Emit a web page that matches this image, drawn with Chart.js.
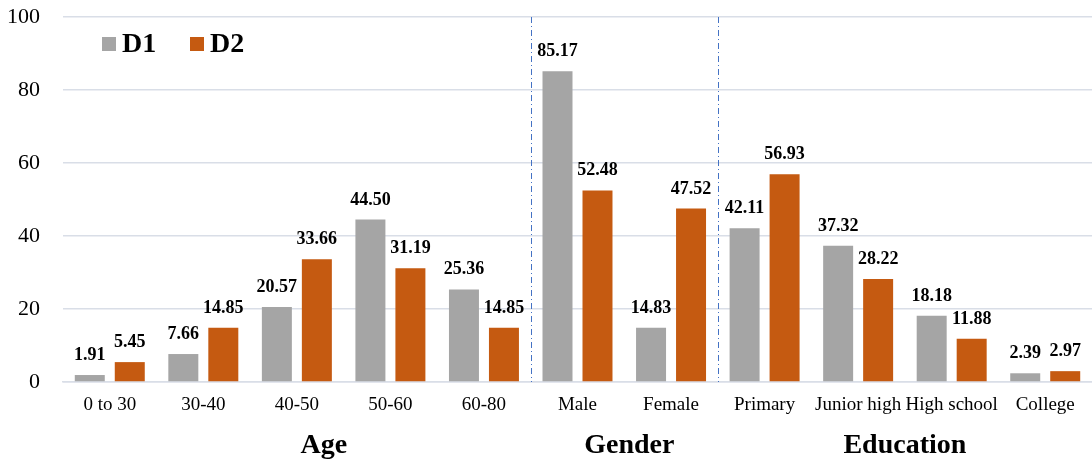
<!DOCTYPE html>
<html>
<head>
<meta charset="utf-8">
<script src="https://cdn.jsdelivr.net/npm/chart.js@4"></script>
<style>
  html, body { margin: 0; padding: 0; background: #fff; }
  #wrap { width: 1092px; height: 465px; position: relative; }
</style>
</head>
<body>
<div id="wrap"><canvas id="c"></canvas></div>
<script>
// Categories along the x axis
const categories = ['0 to 30', '30-40', '40-50', '50-60', '60-80', 'Male', 'Female',
                    'Primary', 'Junior high', 'High school', 'College'];
// Series values (percent)
const d1Values = [1.91, 7.66, 20.57, 44.50, 25.36, 85.17, 14.83, 42.11, 37.32, 18.18, 2.39];
const d2Values = [5.45, 14.85, 33.66, 31.19, 14.85, 52.48, 47.52, 56.93, 28.22, 11.88, 2.97];
const seriesNames = ['D1', 'D2'];
// Group titles and the category index ranges they cover
const groupNames = ['Age', 'Gender', 'Education'];
const groupStarts = [0, 5, 7];
const groupEnds = [4, 6, 10];
// Y axis ticks
const yTicks = [0, 20, 40, 60, 80, 100];

const colors = ['#a5a5a5', '#c55a11'];
const serif = '"Liberation Serif", "Times New Roman", serif';

const overlay = {
  id: 'overlay',
  afterDatasetsDraw(chart) {
    const ctx = chart.ctx;
    const x = chart.scales.x;
    const area = chart.chartArea;
    ctx.save();

    // value labels above each bar
    ctx.font = 'bold 18px ' + serif;
    ctx.fillStyle = '#000';
    ctx.textAlign = 'center';
    ctx.textBaseline = 'alphabetic';
    chart.data.datasets.forEach((ds, di) => {
      chart.getDatasetMeta(di).data.forEach((bar, i) => {
        ctx.fillText(ds.data[i].toFixed(2), bar.x, bar.y - 15);
      });
    });

    // dash-dot separators between groups
    ctx.strokeStyle = '#4472c4';
    ctx.lineWidth = 1;
    ctx.setLineDash([6, 3, 1, 3]);
    for (let g = 1; g < groupStarts.length; g++) {
      const sx = Math.round((x.getPixelForValue(groupStarts[g]) + x.getPixelForValue(groupStarts[g] - 1)) / 2) + 0.5;
      ctx.beginPath();
      ctx.moveTo(sx, area.top);
      ctx.lineTo(sx, area.bottom);
      ctx.stroke();
    }
    ctx.setLineDash([]);

    // group titles below the category labels
    ctx.font = 'bold 28px ' + serif;
    ctx.textBaseline = 'middle';
    const shift = [27, 5, 0];
    groupNames.forEach((name, g) => {
      const cx = (x.getPixelForValue(groupStarts[g]) + x.getPixelForValue(groupEnds[g])) / 2 + shift[g];
      ctx.fillText(name, cx, 446);
    });

    // legend
    ctx.font = 'bold 28px ' + serif;
    ctx.textAlign = 'left';
    const lx = [102, 190];
    seriesNames.forEach((name, i) => {
      ctx.fillStyle = colors[i];
      ctx.fillRect(lx[i], 37, 14, 14);
      ctx.fillStyle = '#000';
      ctx.fillText(name, lx[i] + 20, 45);
    });

    ctx.restore();
  }
};

new Chart(document.getElementById('c'), {
  type: 'bar',
  data: {
    labels: categories,
    datasets: [
      { label: seriesNames[0], data: d1Values, backgroundColor: colors[0] },
      { label: seriesNames[1], data: d2Values, backgroundColor: colors[1] }
    ]
  },
  options: {
    responsive: true,
    maintainAspectRatio: false,
    animation: false,
    layout: { padding: { top: 17, right: 0, left: 0, bottom: 0 } },
    datasets: { bar: { categoryPercentage: 0.855, barPercentage: 0.75 } },
    plugins: { legend: { display: false }, tooltip: { enabled: false } },
    scales: {
      x: {
        grid: { display: false, drawTicks: false },
        border: { display: true, color: '#d9dee7', width: 1.5 },
        ticks: { color: '#000', font: { family: serif, size: 19 }, padding: 12, maxRotation: 0, autoSkip: false },
        afterFit(s) { s.height = 83; s.paddingLeft = 0; s.paddingRight = 0; }
      },
      y: {
        min: 0, max: 100,
        afterBuildTicks(s) { s.ticks = yTicks.map(v => ({ value: v })); },
        grid: { color: '#d9dee7', lineWidth: 1.5, drawTicks: false },
        border: { display: false },
        ticks: { color: '#000', font: { family: serif, size: 22 }, padding: 23 },
        afterFit(s) { s.width = 63; s.paddingTop = 0; s.paddingBottom = 0; }
      }
    }
  },
  plugins: [overlay]
});
</script>
</body>
</html>
